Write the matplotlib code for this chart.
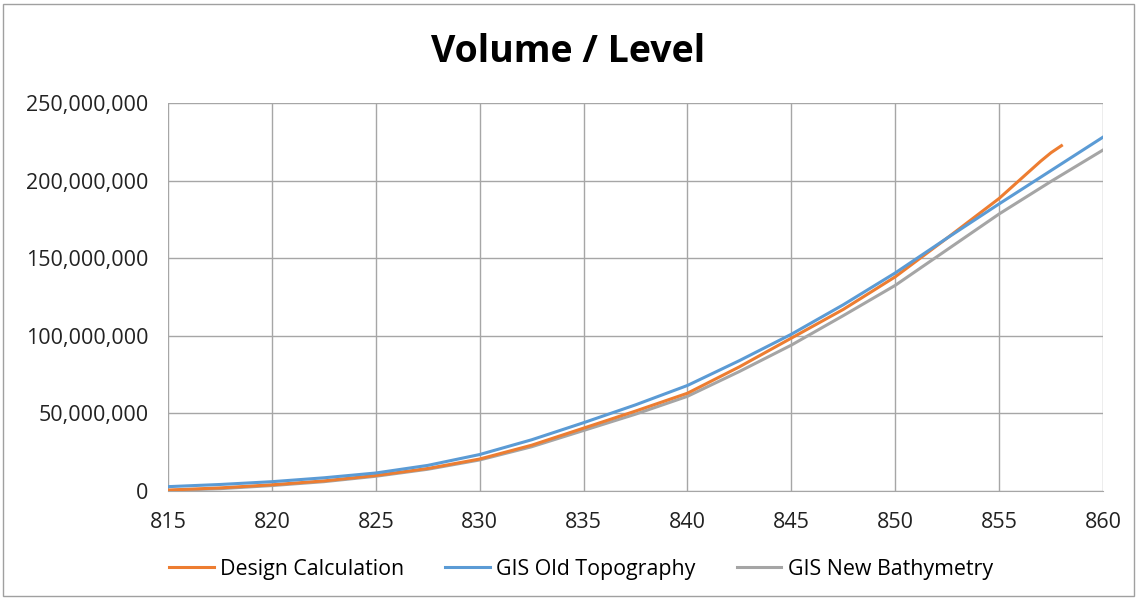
import matplotlib
matplotlib.use("Agg")
import matplotlib.pyplot as plt
from matplotlib.ticker import FuncFormatter
from matplotlib.patches import Rectangle

plt.rcParams['font.family'] = ['Open Sans', 'DejaVu Sans']

levels_design = [815, 817.5, 820, 822.5, 825, 827.5, 830, 832.5, 835, 837.5, 840,
                 842.5, 845, 847.5, 850, 852.5, 855, 856, 857, 857.5, 858]
design = [0.6, 2.0, 4.0, 6.5, 10.0, 14.5, 20.6, 29.5, 40.5, 51.5, 63.0,
          80.0, 98.5, 117.0, 138.0, 163.0, 188.5, 200.5, 212.5, 218.0, 222.5]

levels_gis = [815, 817.5, 820, 822.5, 825, 827.5, 830, 832.5, 835, 837.5, 840,
              842.5, 845, 847.5, 850, 852.5, 855, 857.5, 860]
old_topo = [2.8, 4.2, 6.0, 8.5, 11.6, 16.5, 23.5, 33.0, 44.0, 55.5, 68.0,
            84.0, 101.0, 120.0, 140.5, 163.0, 185.0, 206.5, 228.0]
new_bathy = [0.3, 1.5, 3.5, 6.0, 9.5, 14.0, 20.0, 28.5, 39.0, 49.5, 61.0,
             77.0, 94.0, 113.0, 132.5, 155.5, 178.5, 199.5, 219.7]

x_ticks = [815, 820, 825, 830, 835, 840, 845, 850, 855, 860]
y_ticks = [0, 50e6, 100e6, 150e6, 200e6, 250e6]

fig = plt.figure(figsize=(11.37, 5.98), dpi=100)
ax = fig.add_axes([168/1137, 1-491/598, (1103-168)/1137, (491-103)/598])

ax.plot(levels_design, [v*1e6 for v in design], color='#ED7D31', lw=2.2, label='Design Calculation', zorder=3)
ax.plot(levels_gis, [v*1e6 for v in old_topo], color='#5B9BD5', lw=2.2, label='GIS Old Topography', zorder=4)
ax.plot(levels_gis, [v*1e6 for v in new_bathy], color='#A5A5A5', lw=2.2, label='GIS New Bathymetry', zorder=2)

ax.set_xlim(815, 860)
ax.set_ylim(0, 250e6)
ax.set_xticks(x_ticks)
ax.set_yticks(y_ticks)
ax.yaxis.set_major_formatter(FuncFormatter(lambda v, p: f"{int(round(v)):,}"))
ax.grid(True, color='#a6a6a6', lw=1.0)
ax.set_axisbelow(True)
for s in ['top', 'right', 'left']:
    ax.spines[s].set_visible(False)
ax.spines['bottom'].set_color('#a6a6a6')
ax.tick_params(length=0, labelsize=15.5, colors='#222222')
ax.tick_params(axis='x', pad=15)
ax.tick_params(axis='y', pad=14)

fig.text(0.5, 1-52/598, 'Volume / Level', ha='center', va='center', fontsize=27, fontweight='bold')

leg = fig.legend(loc='center', bbox_to_anchor=(0.511, 1-569/598), ncol=3, frameon=False,
                 fontsize=15.4, handlelength=2.1, columnspacing=1.9, handletextpad=0.3)

fig.patches.append(Rectangle((0.003, 0.003), 0.994, 0.99, transform=fig.transFigure,
                             fill=False, edgecolor='#a0a0a0', lw=1.0))

fig.savefig('out.png', dpi=100)
